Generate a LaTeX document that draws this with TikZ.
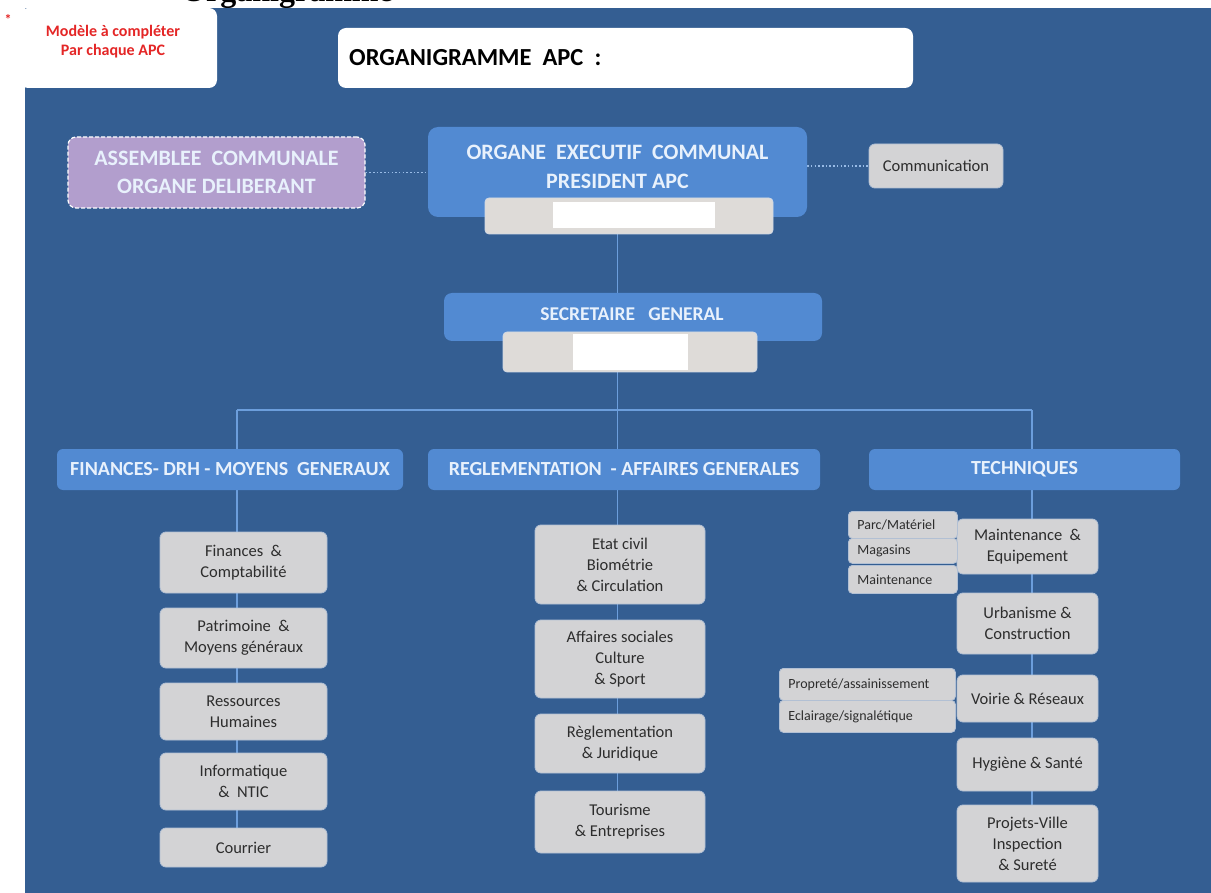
\documentclass[tikz,border=0pt]{standalone}
\usepackage{fontspec}
\setmainfont{Carlito}
\newfontfamily\serifbold{Liberation Serif}
\usetikzlibrary{calc}
\definecolor{bgblue}{RGB}{52,94,146}
\definecolor{boxblue}{RGB}{82,138,210}
\definecolor{boxgray}{RGB}{211,211,213}
\definecolor{graydraw}{RGB}{178,192,212}
\definecolor{barwarm}{RGB}{222,219,216}
\definecolor{purp}{RGB}{178,158,205}
\definecolor{lighttxt}{RGB}{232,241,252}
\definecolor{darktxt}{RGB}{45,45,45}
\definecolor{linecol}{RGB}{108,158,220}
\definecolor{redtxt}{RGB}{228,38,38}
\pgfdeclarelayer{back}
\pgfdeclarelayer{lines}
\pgfsetlayers{back,lines,main}
\newcommand{\orgbox}[7]{%
  \node[#1, minimum width={(#5)-(#3)}, minimum height={(#6)-(#4)}] (#2) at ({((#3)+(#5))/2},{((#4)+(#6))/2}) {#7};}
\newcommand{\subbx}[6]{%
  \node[subbox, anchor=north west, minimum width={(#5)-(#3)}, minimum height={(#6)-(#4)}, text width={(#5)-(#3)-18}] (#1) at (#3,#4) {#2};}
\begin{document}
\begin{tikzpicture}[x=1pt,y=-1pt,
  bluebox/.style={fill=boxblue, rounded corners=6pt, inner sep=0pt, text=lighttxt, align=center, font=\bfseries\fontsize{20}{24}\selectfont},
  graybox/.style={fill=boxgray, draw=graydraw, line width=0.8pt, rounded corners=6pt, inner sep=0pt, text=darktxt, align=center, font=\fontsize{16.5}{21}\selectfont},
  subbox/.style={fill=boxgray, draw=graydraw, line width=0.8pt, rounded corners=4pt, inner xsep=9pt, inner ysep=0pt, text=darktxt, align=left, font=\fontsize{14}{16}\selectfont},
  barbox/.style={fill=barwarm, draw=graydraw!60!white, line width=0.8pt, rounded corners=4pt, inner sep=0pt},
  whitebox/.style={fill=white, inner sep=0pt},
  conn/.style={draw=linecol, line width=1.6pt},
  dotconn/.style={draw=linecol!70!white, line width=1.5pt, dash pattern=on 1.5pt off 2.2pt},
]
\useasboundingbox (0,0) rectangle (1211,893);
\begin{pgfonlayer}{back}
  \fill[white] (0,0) rectangle (1211,893);
  \begin{scope}
    \clip (0,0) rectangle (1211,8);
    \node[anchor=base east, inner sep=0pt, font=\serifbold\bfseries\fontsize{32}{32}\selectfont] (toptitle) at (393,2) {Organigramme};
  \end{scope}
  \fill[bgblue] (25,8) rectangle (1211,893);
\end{pgfonlayer}

% note and title
\node[text=redtxt, font=\bfseries\fontsize{14}{14}\selectfont, inner sep=0pt] (star) at (8,19) {*};
\fill[white, rounded corners=8pt] (20,8) -- (217,8) -- (217,88) -- (20,88) -- cycle;
\node[text=redtxt, align=center, inner sep=0pt, font=\bfseries\fontsize{16}{19}\selectfont] (note) at (113,42) {Modèle à compléter\\Par chaque APC};
\orgbox{fill=white, rounded corners=8pt, inner sep=0pt}{title}{338}{28}{913}{88}{}
\node[anchor=west, inner sep=0pt, font=\bfseries\fontsize{24.5}{28}\selectfont] (titletxt) at (349,58) {ORGANIGRAMME~ APC~ :};

% top level
\orgbox{fill=purp, draw=white, line width=1.2pt, dash pattern=on 4pt off 2pt, rounded corners=8pt, inner sep=0pt, text=lighttxt, align=center, font=\bfseries\fontsize{22}{28}\selectfont}{assemblee}{68}{137}{365}{208}{ASSEMBLEE~ COMMUNALE\\ORGANE DELIBERANT}
\orgbox{bluebox, rounded corners=10pt}{exec}{428}{127}{807}{217}{}
\node[text=lighttxt, align=center, inner sep=0pt, font=\bfseries\fontsize{22}{29}\selectfont] (exectxt) at (617.5,167) {ORGANE~ EXECUTIF~ COMMUNAL\\PRESIDENT APC};
\orgbox{barbox}{execbar}{485}{198}{773}{234}{}
\orgbox{whitebox}{execbarw}{553}{202}{715}{228}{}
\orgbox{graybox}{comm}{869}{144}{1003}{188}{Communication}

\orgbox{bluebox, rounded corners=8pt}{sg}{444}{293}{822}{341}{}
\node[text=lighttxt, inner sep=0pt, font=\bfseries\fontsize{19.5}{24}\selectfont] (sgtxt) at (632,314) {SECRETAIRE~~ GENERAL};
\orgbox{barbox}{sgbar}{503}{332}{757}{372}{}
\orgbox{whitebox}{sgbarw}{573}{334}{688}{370}{}

% headers
\orgbox{bluebox}{fin}{57}{449}{403}{490}{FINANCES- DRH - MOYENS~ GENERAUX}
\orgbox{bluebox}{reg}{428}{449}{820}{490}{REGLEMENTATION~ - AFFAIRES GENERALES}
\orgbox{bluebox}{tech}{869}{449}{1180}{490}{TECHNIQUES}

% left column
\orgbox{graybox}{fc}{160}{532}{327}{593}{Finances~ \&\\Comptabilité}
\orgbox{graybox}{pm}{160}{608}{327}{668}{Patrimoine~ \&\\Moyens généraux}
\orgbox{graybox}{rh}{160}{683}{327}{740}{Ressources\\Humaines}
\orgbox{graybox}{it}{160}{753}{327}{810}{Informatique\\\&~ NTIC}
\orgbox{graybox}{courrier}{160}{828}{327}{867}{Courrier}

% middle column
\orgbox{graybox}{ec}{535}{525}{705}{604}{Etat civil\\Biométrie\\\& Circulation}
\orgbox{graybox}{as}{535}{620}{705}{698}{Affaires sociales\\Culture\\\& Sport}
\orgbox{graybox}{rj}{535}{714}{705}{773}{Règlementation\\\& Juridique}
\orgbox{graybox}{tourisme}{535}{791}{705}{853}{Tourisme\\\& Entreprises}

% right column
\orgbox{graybox}{me}{957}{519}{1098}{574}{Maintenance~ \&\\Equipement}
\orgbox{graybox}{uc}{957}{593}{1098}{654}{Urbanisme \&\\Construction}
\orgbox{graybox}{vr}{957}{675}{1098}{722}{Voirie \& Réseaux}
\orgbox{graybox}{hs}{957}{738}{1098}{791}{Hygiène \& Santé}
\orgbox{graybox}{projets}{957}{805}{1098}{882}{Projets-Ville\\Inspection\\\& Sureté}

% sub boxes
\subbx{parc}{Parc/Matériel}{848}{511}{957}{538}
\subbx{mag}{Magasins}{848}{538}{957}{563}
\subbx{maint}{Maintenance}{848}{565}{957}{593}
\subbx{prop}{Propreté/assainissement}{779}{668}{955}{700}
\subbx{ecl}{Eclairage/signalétique}{779}{700}{955}{732}

% connectors
\coordinate (hl) at (237,410);
\coordinate (hr) at (1032,410);
\begin{pgfonlayer}{lines}
  \draw[conn] (exec.center |- execbar.south) -- (exec.center |- reg.north);
  \draw[conn] (hl) -- (hr);
  \draw[conn] (hl) -- (hl |- courrier.north);
  \draw[conn] (exec.center |- reg.south) -- (exec.center |- tourisme.north);
  \draw[conn] (hr) -- (hr |- projets.north);
  \draw[dotconn] (assemblee.east) -- (assemblee.east -| exec.west);
  \draw[dotconn] (exec.east |- comm.west) -- (comm.west);
\end{pgfonlayer}
\end{tikzpicture}
\end{document}
